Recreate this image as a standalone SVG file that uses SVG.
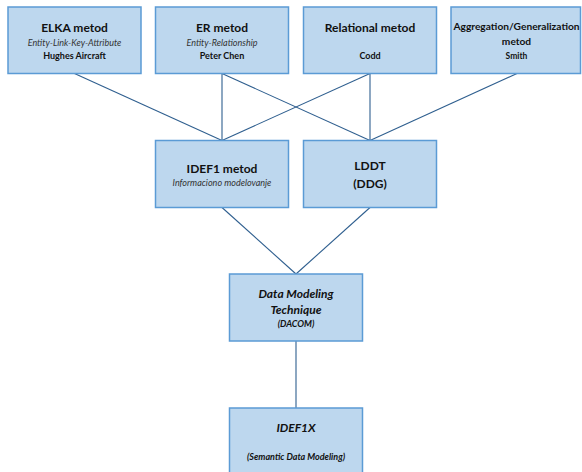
<svg xmlns="http://www.w3.org/2000/svg" width="582" height="472" viewBox="0 0 582 472">
  <style>
    .box { fill: #BDD7EE; stroke: #5B9BD5; stroke-width: 1.5; }
    .link { stroke: #2F5F8F; stroke-width: 1.1; fill: none; }
    text { font-family: Lato, "Open Sans", "Liberation Sans", sans-serif; fill: #111; text-anchor: middle; }
    .title { font-size: 12px; font-weight: bold; }
    .sub { font-size: 9px; font-style: italic; fill: #333; }
    .small { font-size: 9px; font-weight: bold; }
    .bi { font-weight: bold; font-style: italic; }
  </style>
  <rect width="582" height="472" fill="#FFFFFF"/>

  <!-- connectors -->
  <g id="connectors">
    <line class="link" x1="74.5" y1="73.5" x2="222" y2="140.5"/>
    <line class="link" x1="222" y1="73.5" x2="222" y2="140.5"/>
    <line class="link" x1="222" y1="73.5" x2="370" y2="140.5"/>
    <line class="link" x1="370" y1="73.5" x2="222" y2="140.5"/>
    <line class="link" x1="370" y1="73.5" x2="370" y2="140.5"/>
    <line class="link" x1="517" y1="73.5" x2="370" y2="140.5"/>
    <line class="link" x1="222" y1="207.5" x2="296" y2="274"/>
    <line class="link" x1="370" y1="207.5" x2="296" y2="274"/>
    <line class="link" x1="296" y1="341" x2="296" y2="408"/>
  </g>

  <g id="elka">
    <rect class="box" x="8" y="7" width="133" height="66.5"/>
    <text class="title" x="74.5" y="31.5">ELKA metod</text>
    <text class="sub" x="74.5" y="45.5">Entity-Link-Key-Attribute</text>
    <text class="small" x="74.5" y="58.5">Hughes Aircraft</text>
  </g>

  <g id="er">
    <rect class="box" x="155.5" y="7" width="133" height="66.5"/>
    <text class="title" x="222" y="31.5">ER metod</text>
    <text class="sub" x="222" y="45.5">Entity-Relationship</text>
    <text class="small" x="222" y="58.5">Peter Chen</text>
  </g>

  <g id="relational">
    <rect class="box" x="303.5" y="7" width="133" height="66.5"/>
    <text class="title" x="370" y="31.5">Relational metod</text>
    <text class="small" x="370" y="58.5">Codd</text>
  </g>

  <g id="aggregation">
    <rect class="box" x="451" y="7" width="129.5" height="66.5"/>
    <text class="title" x="516.5" y="29.5" style="font-size:10.2px">Aggregation/Generalization</text>
    <text class="title" x="516.5" y="45" style="font-size:10.2px">metod</text>
    <text class="small" x="516.5" y="58.5" style="font-size:8.5px">Smith</text>
  </g>

  <g id="idef1">
    <rect class="box" x="155.5" y="140.5" width="133" height="67"/>
    <text class="title" x="222" y="172.5">IDEF1 metod</text>
    <text class="sub" x="222" y="186">Informaciono modelovanje</text>
  </g>

  <g id="lddt">
    <rect class="box" x="303.5" y="140.5" width="133" height="67"/>
    <text class="title" x="370" y="170">LDDT</text>
    <text class="title" x="370" y="187.5">(DDG)</text>
  </g>

  <g id="dacom">
    <rect class="box" x="229.5" y="274" width="133" height="67"/>
    <text class="title bi" x="296" y="297.5">Data Modeling</text>
    <text class="title bi" x="296" y="314">Technique</text>
    <text class="small bi" x="296" y="327">(DACOM)</text>
  </g>

  <g id="idef1x">
    <rect class="box" x="229.5" y="408" width="133" height="70"/>
    <text class="title bi" x="296" y="432">IDEF1X</text>
    <text class="small bi" x="296" y="460">(Semantic Data Modeling)</text>
  </g>
</svg>
